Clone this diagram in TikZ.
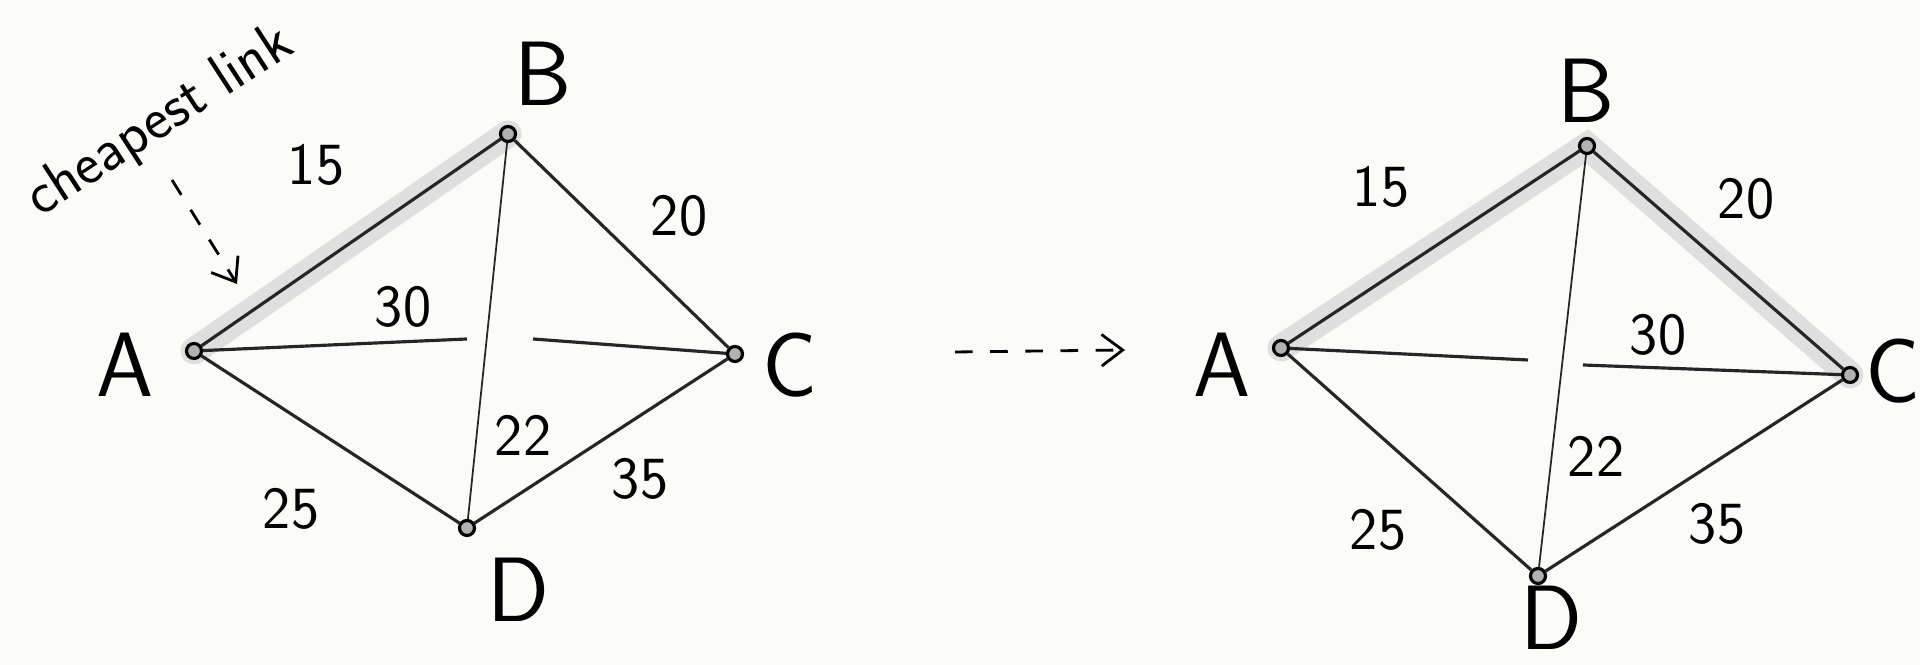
\documentclass[tikz,border=0pt]{standalone}
\usetikzlibrary{arrows.meta}
\pgfdeclarelayer{bg}
\pgfsetlayers{bg,main}
\tikzset{
  dot/.style={circle,draw,fill=gray!60,line width=0.9pt,inner sep=0pt,minimum size=0.15cm},
  edge/.style={line width=0.9pt,black!85},
  thinedge/.style={line width=0.5pt,black!85},
  cheap/.style={line width=0.27cm,gray!25,line cap=round},
  vname/.style={font=\fontsize{26}{28}\selectfont\sffamily},
  cost/.style={font=\fontsize{17}{19}\selectfont\sffamily},
  hint/.style={dashed,dash pattern=on 5pt off 5pt,line width=0.8pt,-{Straight Barb[length=6pt,width=9pt]}},
}
\begin{document}
\begin{tikzpicture}[x=0.01cm,y=-0.01cm]
                \useasboundingbox (0,0) rectangle (1920,665);
                \begin{pgfonlayer}{bg}
                \fill [white!97!yellow!50!gray!8] (0,0) rectangle (1920,665);
                \end{pgfonlayer}
                % left graph
                \node [dot] (A1) at (194,351) {};
                \node [dot] (B1) at (508,134) {};
                \node [dot] (C1) at (735,354) {};
                \node [dot] (D1) at (467,528) {};
                \coordinate (ac1) at (467,339);
                \coordinate (ac2) at (533,339);
                \begin{pgfonlayer}{bg}
                \draw [cheap] (A1.center) -- (B1.center);
                \end{pgfonlayer}
                \draw [edge] (A1) -- (B1);
                \draw [edge] (B1) -- (C1);
                \draw [edge] (A1) -- (D1);
                \draw [edge] (D1) -- (C1);
                \draw [thinedge] (B1) -- (D1);
                \draw [edge] (A1) -- (ac1);
                \draw [edge] (ac2) -- (C1);
                \node [vname] (lA1) at (125,365) {A};
                \node [vname] (lB1) at (543,74) {B};
                \node [vname] (lC1) at (790,365) {C};
                \node [vname] (lD1) at (518,590) {D};
                \node [cost] (w15a) at (316,165) {15};
                \node [cost] (w20a) at (679,216) {20};
                \node [cost] (w30a) at (403,307) {30};
                \node [cost] (w22a) at (523,435) {22};
                \node [cost] (w35a) at (640,479) {35};
                \node [cost] (w25a) at (291,509) {25};
                \node [font=\fontsize{17}{19}\selectfont\sffamily,rotate=33] (note) at (160,122) {cheapest link};
                \coordinate (tip) at (237,284);
                \draw [hint] (172,180) -- (tip);
                % step arrow
                \coordinate (s1) at (955,352);
                \coordinate (s2) at (1125,350);
                \draw [hint] (s1) -- (s2);
                % right graph
                \node [dot] (A2) at (1281,348) {};
                \node [dot] (B2) at (1587,146) {};
                \node [dot] (C2) at (1850,375) {};
                \node [dot] (D2) at (1538,576) {};
                \coordinate (ac3) at (1528,360);
                \coordinate (ac4) at (1583,365);
                \begin{pgfonlayer}{bg}
                \draw [cheap] (A2.center) -- (B2.center) -- (C2.center);
                \end{pgfonlayer}
                \draw [edge] (A2) -- (B2);
                \draw [edge] (B2) -- (C2);
                \draw [edge] (A2) -- (D2);
                \draw [edge] (D2) -- (C2);
                \draw [thinedge] (B2) -- (D2);
                \draw [edge] (A2) -- (ac3);
                \draw [edge] (ac4) -- (C2);
                \node [vname] (lA2) at (1222,365) {A};
                \node [vname] (lB2) at (1586,91) {B};
                \node [vname] (lC2) at (1893,371) {C};
                \node [vname] (lD2) at (1551,618) {D};
                \node [cost] (w15b) at (1381,187) {15};
                \node [cost] (w20b) at (1746,199) {20};
                \node [cost] (w30b) at (1658,335) {30};
                \node [cost] (w22b) at (1596,456) {22};
                \node [cost] (w35b) at (1717,524) {35};
                \node [cost] (w25b) at (1378,530) {25};
            \end{tikzpicture}
\end{document}
